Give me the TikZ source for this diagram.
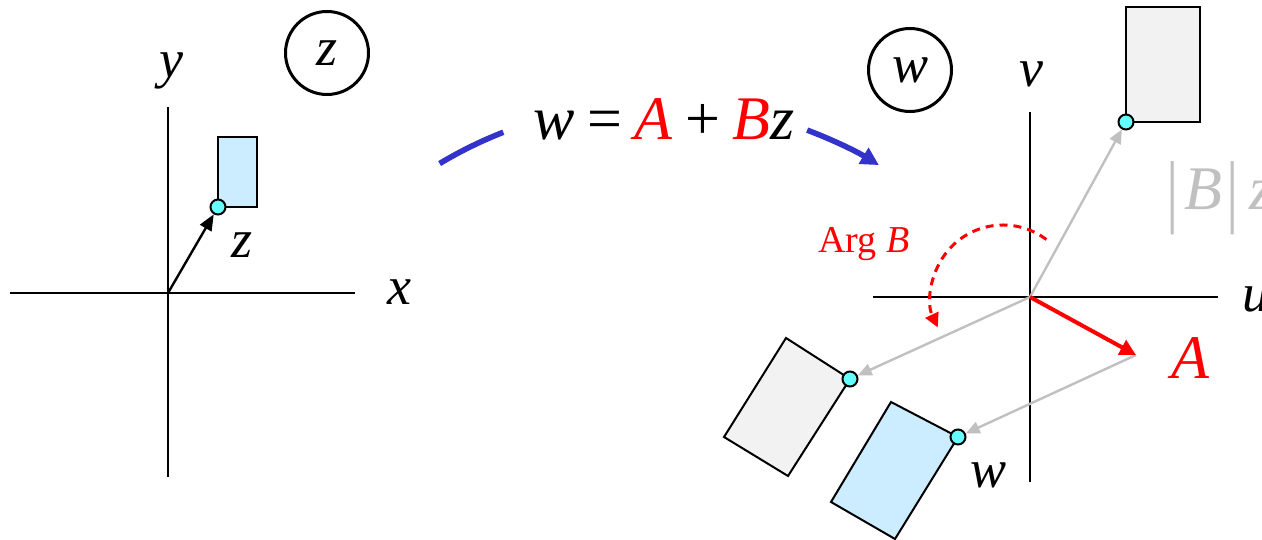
\documentclass[tikz,border=0pt]{standalone}
\usepackage{fontspec}
\setmainfont{Liberation Serif}
\usepackage{graphicx}
\usepackage{tikz}
\usetikzlibrary{arrows.meta,positioning,calc}
\usepackage{xcolor}
\definecolor{arcblue}{HTML}{3333CC}
\definecolor{boxblue}{HTML}{CCECFF}
\definecolor{boxgray}{HTML}{F2F2F2}
\definecolor{dotcyan}{HTML}{66FFFF}
\definecolor{ghostgray}{HTML}{C0C0C0}

\newcommand{\tallbar}{\upshape\raisebox{-4pt}{\scalebox{1}[1.3]{|}}}

\tikzset{
  axis/.style={line width=1pt},
  dot/.style={circle, draw, line width=1pt, fill=dotcyan, inner sep=0pt, minimum size=7.5pt},
  plane/.style={circle, draw, line width=1.5pt, inner sep=0pt, minimum size=41.5pt,
    font=\fontsize{27}{27}\selectfont\itshape},
  lbl/.style={font=\fontsize{27}{27}\selectfont\itshape, anchor=base, inner sep=0pt},
  biglbl/.style={font=\fontsize{31}{31}\selectfont\itshape, anchor=base, inner sep=0pt},
  ghost/.style={ghostgray, line width=1.2pt, -{Triangle[length=7pt,width=6pt]}},
  box/.style={draw, line width=1pt},
}

\begin{document}
\begin{tikzpicture}[x=0.5pt,y=0.5pt]
  \useasboundingbox (0,0) rectangle (1262,540);
  % z-plane
  \coordinate (o1) at (168,247);
  \draw[axis] (10,247) -- (355,247);
  \draw[axis] (168,63) -- (168,433);
  \node[lbl] (xl) at (399,235) {x};
  \node[lbl] (yl) at (171,462) {y};
  \node[plane] (zc) at (327,487) {z};
  \draw[box, fill=boxblue] (218,333) rectangle (257,403);
  \node[dot] (zp) at (218,333) {};
  \draw[line width=1.2pt, -{Triangle[length=8pt,width=6.5pt]}] (o1) -- (zp);
  \node[lbl] (zl) at (242,282) {z};

  % the map
  \node[biglbl] (map) at (664,400)
    {w\hspace{4.5pt}=\hspace{4.5pt}\textcolor{red}{A}\hspace{4.5pt}+\hspace{4.5pt}\textcolor{red}{B}z};
  \coordinate (m1) at ($(658,13)+(121:424)$);
  \coordinate (m2) at ($(658,13)+(69.4:424)$);
  \draw[arcblue, line width=2.8pt] (m1) arc[start angle=121, end angle=111.4, radius=424];
  \draw[arcblue, line width=2.8pt, -{Triangle[length=9pt,width=9pt]}]
    (m2) arc[start angle=69.4, end angle=58.6, radius=424];

  % w-plane
  \coordinate (o2) at (1030,243);
  \coordinate (atip) at (1136,185);
  \draw[axis] (873,243) -- (1218,243);
  \draw[axis] (1030,58) -- (1030,428);
  \node[lbl] (ul) at (1256,228) {u};
  \node[lbl] (vl) at (1031,453) {v};
  \node[plane] (wc) at (910,470) {w};

  \draw[box, fill=boxgray] (1126,418) rectangle (1200,533);
  \draw[box, fill=boxgray] (850,161) -- (786,202) -- (724,103) -- (788,64) -- cycle;
  \draw[box, fill=boxblue] (958,103) -- (891,138) -- (831,38) -- (895,1) -- cycle;

  \node[dot] (bz) at (1126,418) {};
  \node[dot] (bzr) at (850,161) {};
  \node[dot] (wp) at (958,103) {};
  \draw[ghost] (o2) -- (bz);
  \draw[ghost] (o2) -- (bzr);
  \draw[ghost] (atip) -- (wp);
  \draw[red, line width=2pt, -{Triangle[length=8pt,width=8pt]}] (o2) -- (atip);

  \node[biglbl, ghostgray, anchor=base west] (bl) at (1166,330)
    {\tallbar\hspace{3pt}\itshape B\hspace{2pt}\tallbar\hspace{5pt}\itshape z};
  \node[biglbl, red] (al) at (1190,161) {A};
  \node[lbl] (wl) at (988,52) {w};

  \node[red, font=\fontsize{19}{19}\selectfont, anchor=base west, inner sep=0pt] (argl) at (818,287) {Arg \textit{B}};
  \coordinate (r1) at ($(1003,243)+(53:72)$);
  \draw[red, line width=1.5pt, dash pattern=on 4pt off 3pt, -{Triangle[length=7pt,width=7pt]}]
    (r1) arc[start angle=53, end angle=205, radius=72];
\end{tikzpicture}
\end{document}
